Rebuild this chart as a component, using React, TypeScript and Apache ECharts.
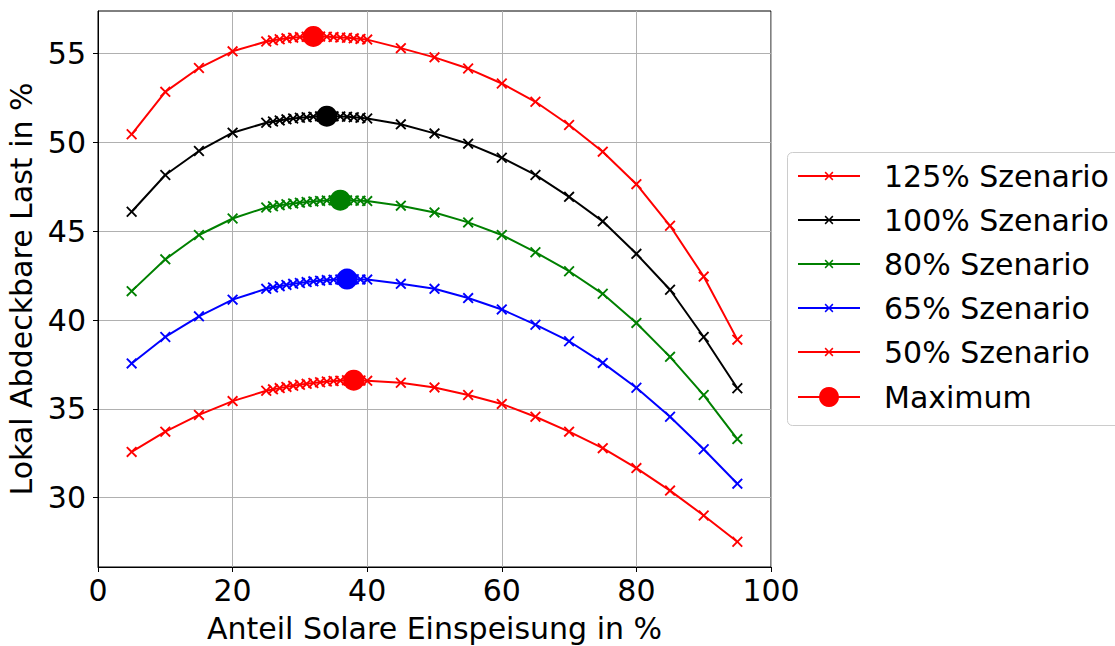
import React, { useEffect, useRef } from "react";
import * as echarts from "echarts";

const xValues = [5, 10, 15, 20, 25, 26, 27, 28, 29, 30, 31, 32, 33, 34, 35, 36, 37, 38, 39, 40, 45, 50, 55, 60, 65, 70, 75, 80, 85, 90, 95];

const s125 = [50.46, 52.85, 54.19, 55.13, 55.68, 55.75, 55.81, 55.86, 55.9, 55.93, 55.95, 55.97, 55.96, 55.95, 55.93, 55.91, 55.89, 55.86, 55.83, 55.79, 55.31, 54.79, 54.16, 53.32, 52.29, 50.98, 49.48, 47.65, 45.31, 42.45, 38.9];
const s100 = [46.1, 48.17, 49.52, 50.55, 51.11, 51.18, 51.24, 51.3, 51.35, 51.39, 51.42, 51.45, 51.47, 51.48, 51.47, 51.46, 51.44, 51.42, 51.39, 51.35, 51.02, 50.51, 49.93, 49.14, 48.17, 46.94, 45.56, 43.73, 41.71, 39.05, 36.16];
const s80 = [41.63, 43.42, 44.79, 45.72, 46.34, 46.41, 46.47, 46.52, 46.57, 46.61, 46.65, 46.68, 46.71, 46.73, 46.74, 46.75, 46.74, 46.73, 46.72, 46.7, 46.44, 46.06, 45.5, 44.79, 43.82, 42.75, 41.48, 39.84, 37.93, 35.78, 33.3];
const s65 = [37.56, 39.05, 40.21, 41.15, 41.76, 41.84, 41.91, 41.98, 42.04, 42.09, 42.14, 42.18, 42.22, 42.25, 42.27, 42.29, 42.31, 42.3, 42.29, 42.28, 42.04, 41.76, 41.24, 40.6, 39.74, 38.81, 37.59, 36.19, 34.56, 32.73, 30.79];
const s50 = [32.58, 33.72, 34.66, 35.44, 36.02, 36.1, 36.17, 36.24, 36.3, 36.36, 36.41, 36.46, 36.5, 36.54, 36.57, 36.59, 36.61, 36.62, 36.6, 36.58, 36.47, 36.21, 35.78, 35.28, 34.56, 33.72, 32.79, 31.67, 30.4, 29.0, 27.52];

const seriesNames = ["125% Szenario", "100% Szenario", "80% Szenario", "65% Szenario", "50% Szenario"];
const seriesColors = ["#ff0000", "#000000", "#008000", "#0000ff", "#ff0000"];
const seriesValues = [s125, s100, s80, s65, s50];
const maxName = "Maximum";

const xTicks = [0, 20, 40, 60, 80, 100];
const yTicks = [30, 35, 40, 45, 50, 55];

const X_MARK = "path://M0,1.2L1.2,0L5,3.8L8.8,0L10,1.2L6.2,5L10,8.8L8.8,10L5,6.2L1.2,10L0,8.8L3.8,5Z";
const FONT = "DejaVu Sans";

export default function App() {
  const ref = useRef<HTMLDivElement>(null);
  useEffect(() => {
    if (!ref.current) return;
    const chart = echarts.init(ref.current, undefined, { renderer: "svg" });

    const lineSeries = seriesValues.map((vals, i) => ({
      name: seriesNames[i],
      type: "line",
      data: xValues.map((x, j) => [x, vals[j]]),
      symbol: X_MARK,
      symbolSize: 11,
      showSymbol: true,
      showAllSymbol: true,
      lineStyle: { color: seriesColors[i], width: 2 },
      itemStyle: { color: seriesColors[i] },
      emphasis: { disabled: true },
      z: 2,
    }));

    const maxData = seriesValues.map((vals, i) => {
      let k = 0;
      for (let j = 1; j < vals.length; j++) if (vals[j] > vals[k]) k = j;
      return { value: [xValues[k], vals[k]], itemStyle: { color: seriesColors[i] } };
    });

    const option: any = {
      animation: false,
      backgroundColor: "#ffffff",
      textStyle: { fontFamily: FONT },
      grid: {
        left: 98,
        top: 11,
        right: 344,
        bottom: 79,
        show: true,
        borderColor: "#000000",
        borderWidth: 1,
        outerBoundsMode: "none",
      },
      xAxis: {
        type: "value",
        min: 0,
        max: 100,
        interval: 20,
        name: "Anteil Solare Einspeisung in %",
        nameLocation: "middle",
        nameGap: 46,
        nameTextStyle: { fontSize: 30, color: "#000", fontFamily: FONT },
        axisLine: { show: true, lineStyle: { color: "#000", width: 1 } },
        axisTick: { show: true, inside: false, length: 5, lineStyle: { color: "#000" }, customValues: xTicks },
        axisLabel: { fontSize: 30, color: "#000", margin: 8, fontFamily: FONT, customValues: xTicks },
        splitLine: { show: true, lineStyle: { color: "#b0b0b0", width: 1 } },
      },
      yAxis: {
        type: "value",
        min: 26.1,
        max: 57.4,
        name: "Lokal Abdeckbare Last in %",
        nameLocation: "middle",
        nameGap: 50,
        nameTextStyle: { fontSize: 30, color: "#000", fontFamily: FONT },
        axisLine: { show: true, lineStyle: { color: "#000", width: 1 } },
        axisTick: { show: true, inside: false, length: 5, lineStyle: { color: "#000" }, customValues: yTicks },
        axisLabel: { fontSize: 30, color: "#000", margin: 12, fontFamily: FONT, customValues: yTicks },
        splitLine: { show: true, lineStyle: { color: "#b0b0b0", width: 1 } },
      },
      legend: [
        {
          data: seriesNames,
          orient: "vertical",
          left: 797,
          top: 161,
          padding: 0,
          itemWidth: 62,
          itemHeight: 11,
          itemGap: 14,
          selectedMode: false,
          textStyle: { fontSize: 30, color: "#000", fontFamily: FONT, lineHeight: 30, padding: [0, 0, 0, 19] },
        },
        {
          data: [
            {
              name: maxName,
              lineStyle: { color: "#ff0000", width: 2, opacity: 1, type: "solid" },
            },
          ],
          orient: "vertical",
          left: 797,
          top: 382,
          padding: 0,
          itemWidth: 62,
          itemHeight: 25,
          selectedMode: false,
          textStyle: { fontSize: 30, color: "#000", fontFamily: FONT, lineHeight: 30, padding: [0, 0, 0, 19] },
        },
      ],
      graphic: [
        {
          type: "rect",
          left: 787,
          top: 152,
          z: 0,
          shape: { width: 340, height: 273, r: 5 },
          style: { fill: "#ffffff", stroke: "#cccccc", lineWidth: 1 },
        },
      ],
      series: [
        ...lineSeries,
        {
          name: maxName,
          type: "line",
          data: maxData,
          symbol: "circle",
          symbolSize: 21,
          showSymbol: true,
          lineStyle: { color: "#ff0000", width: 2, opacity: 0 },
          itemStyle: { color: "#ff0000" },
          emphasis: { disabled: true },
          z: 5,
        },
      ],
    };
    chart.setOption(option);
    return () => chart.dispose();
  }, []);
  return (
    <div
      ref={ref}
      style={{ position: "absolute", left: 0, top: 0, width: 1115, height: 646, background: "#fff" }}
    />
  );
}
